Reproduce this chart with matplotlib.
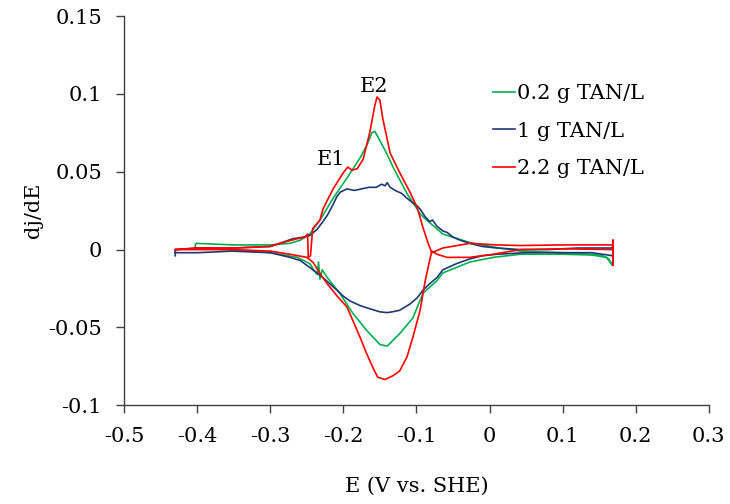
import matplotlib
matplotlib.use('Agg')
import matplotlib.pyplot as plt

plt.rcParams.update({'font.family': 'DejaVu Serif', 'font.size': 15})

# 0.2 g TAN/L: forward sweep then reverse sweep (E in V vs. SHE, dj/dE)
e_green = [-0.403, -0.402, -0.35, -0.30, -0.273, -0.259, -0.246, -0.232, -0.214, -0.195,
           -0.177, -0.168, -0.161, -0.157, -0.150, -0.141, -0.132, -0.113, -0.095, -0.091,
           -0.064, -0.027, 0.010, 0.042, 0.10, 0.14, 0.155, 0.163, 0.168,
           0.160, 0.14, 0.10, 0.042, 0.005, -0.027, -0.064, -0.072, -0.091, -0.105,
           -0.123, -0.140, -0.150, -0.168, -0.187, -0.205, -0.222, -0.229, -0.232, -0.234,
           -0.236, -0.246, -0.263, -0.30, -0.33, -0.40, -0.403]
dj_green = [0.001, 0.004, 0.003, 0.003, 0.004, 0.006, 0.010, 0.019, 0.033, 0.046,
            0.059, 0.067, 0.075, 0.076, 0.070, 0.062, 0.053, 0.036, 0.023, 0.021,
            0.010, 0.0045, 0.0013, -0.001, -0.002, -0.003, -0.004, -0.006, -0.010,
            -0.005, -0.0035, -0.003, -0.003, -0.005, -0.008, -0.015, -0.020, -0.028, -0.044,
            -0.054, -0.062, -0.061, -0.052, -0.041, -0.028, -0.018, -0.013, -0.019, -0.008,
            -0.016, -0.009, -0.005, -0.002, -0.001, 0.001, 0.001]

# 1 g TAN/L
e_blue = [-0.430, -0.430, -0.40, -0.35, -0.30, -0.287, -0.269, -0.255, -0.246, -0.236,
          -0.228, -0.222, -0.214, -0.209, -0.204, -0.195, -0.185, -0.175, -0.165, -0.155,
          -0.148, -0.143, -0.140, -0.136, -0.129, -0.120, -0.113, -0.105, -0.099, -0.095,
          -0.088, -0.082, -0.078, -0.072, -0.064, -0.058, -0.050, -0.040, -0.027, -0.010,
          0.010, 0.042, 0.08, 0.12, 0.150, 0.168, 0.169, 0.169,
          0.14, 0.10, 0.05, 0.010, -0.010, -0.027, -0.045, -0.064, -0.072, -0.082,
          -0.091, -0.099, -0.109, -0.123, -0.133, -0.140, -0.150, -0.164, -0.177, -0.191,
          -0.200, -0.209, -0.228, -0.246, -0.259, -0.273, -0.30, -0.352, -0.40, -0.430]
dj_blue = [-0.004, 0.000, 0.001, 0.001, 0.002, 0.004, 0.007, 0.008, 0.009, 0.013,
           0.018, 0.022, 0.029, 0.034, 0.037, 0.039, 0.038, 0.039, 0.040, 0.040,
           0.042, 0.041, 0.043, 0.040, 0.038, 0.036, 0.033, 0.030, 0.028, 0.026,
           0.021, 0.018, 0.019, 0.015, 0.012, 0.011, 0.008, 0.006, 0.004, 0.002,
           0.001, 0.000, 0.000, 0.001, 0.001, 0.001, 0.006, -0.004,
           -0.002, -0.002, -0.002, -0.003, -0.004, -0.006, -0.009, -0.013, -0.018, -0.022,
           -0.026, -0.031, -0.035, -0.039, -0.040, -0.0405, -0.040, -0.038, -0.036, -0.033,
           -0.030, -0.026, -0.018, -0.0115, -0.007, -0.005, -0.002, -0.001, -0.002, -0.002]

# 2.2 g TAN/L
e_red = [-0.430, -0.40, -0.35, -0.30, -0.287, -0.263, -0.252, -0.249, -0.248, -0.245,
         -0.242, -0.232, -0.228, -0.214, -0.200, -0.194, -0.188, -0.181, -0.173, -0.164,
         -0.157, -0.154, -0.150, -0.146, -0.136, -0.123, -0.109, -0.099, -0.091, -0.084,
         -0.079, -0.064, -0.027, 0.010, 0.042, 0.10, 0.14, 0.169, 0.169, 0.169,
         0.169, 0.10, 0.042, 0.005, -0.027, -0.058, -0.072, -0.079, -0.082, -0.088,
         -0.091, -0.095, -0.105, -0.113, -0.123, -0.132, -0.143, -0.153, -0.159, -0.168,
         -0.177, -0.187, -0.195, -0.209, -0.222, -0.232, -0.239, -0.242, -0.250, -0.273,
         -0.30, -0.35, -0.430]
dj_red = [0.000, 0.001, 0.001, 0.002, 0.004, 0.007, 0.008, 0.010, -0.005, -0.004,
          0.0135, 0.019, 0.026, 0.039, 0.0495, 0.053, 0.051, 0.052, 0.058, 0.075,
          0.0925, 0.098, 0.096, 0.084, 0.062, 0.0495, 0.037, 0.027, 0.014, 0.004,
          -0.002, 0.001, 0.004, 0.003, 0.0026, 0.003, 0.003, 0.003, 0.006, -0.010,
          0.000, 0.0005, 0.000, -0.003, -0.005, -0.005, -0.003, -0.001, -0.007, -0.020,
          -0.028, -0.039, -0.0565, -0.069, -0.078, -0.081, -0.0835, -0.082, -0.0765, -0.067,
          -0.0565, -0.0456, -0.037, -0.0296, -0.022, -0.0154, -0.010, -0.008, -0.005, -0.003,
          -0.001, 0.000, 0.000]

x_ticks = [-0.5, -0.4, -0.3, -0.2, -0.1, 0, 0.1, 0.2, 0.3]
x_labels = ['-0.5', '-0.4', '-0.3', '-0.2', '-0.1', '0', '0.1', '0.2', '0.3']
y_ticks = [-0.1, -0.05, 0, 0.05, 0.1, 0.15]
y_labels = ['-0.1', '-0.05', '0', '0.05', '0.1', '0.15']

fig = plt.figure(figsize=(7.3, 5.04), dpi=100)
ax = fig.add_axes([0.170, 0.196, 0.801, 0.772])

ax.plot(e_green, dj_green, color='#00B050', lw=1.2, label='0.2 g TAN/L')
ax.plot(e_blue, dj_blue, color='#1F3874', lw=1.2, label='1 g TAN/L')
ax.plot(e_red, dj_red, color='#FF0000', lw=1.2, label='2.2 g TAN/L')

ax.set_xlim(-0.5, 0.3)
ax.set_ylim(-0.1, 0.15)
ax.set_xticks(x_ticks)
ax.set_xticklabels(x_labels)
ax.set_yticks(y_ticks)
ax.set_yticklabels(y_labels)
for side in ('top', 'right'):
    ax.spines[side].set_visible(False)
for side in ('left', 'bottom'):
    ax.spines[side].set_color('#404040')
    ax.spines[side].set_linewidth(1.0)
ax.tick_params(direction='out', length=6, width=1.0, color='#404040', labelsize=15)
ax.tick_params(axis='x', pad=10)
ax.tick_params(axis='y', pad=10)

ax.set_xlabel('E (V vs. SHE)', fontsize=15, labelpad=22)
ax.set_ylabel('dj/dE', fontsize=15, labelpad=4)

# peak annotations
ax.text(-0.217, 0.052, 'E1', fontsize=15, ha='center', va='bottom')
ax.text(-0.158, 0.099, 'E2', fontsize=15, ha='center', va='bottom')

ax.legend(loc='upper left', bbox_to_anchor=(0.631, 0.826), frameon=False,
          handlelength=1.05, handletextpad=0.1, labelspacing=0.9,
          borderpad=0, borderaxespad=0, fontsize=15)

fig.savefig('out.png', dpi=100)
